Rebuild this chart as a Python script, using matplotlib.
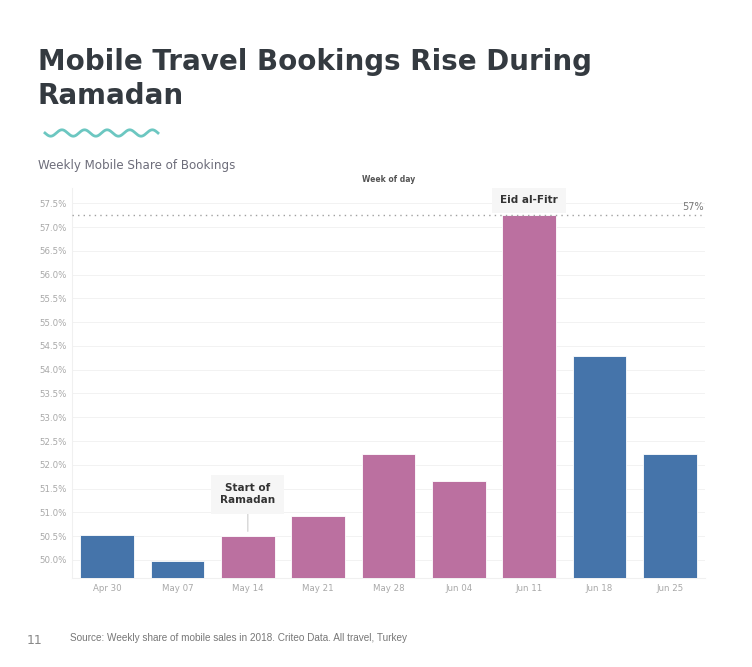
import matplotlib
matplotlib.use("Agg")
import matplotlib.pyplot as plt
import numpy as np

# data
weeks = ["Apr 30", "May 07", "May 14", "May 21", "May 28", "Jun 04", "Jun 11", "Jun 18", "Jun 25"]
share = [50.53, 49.98, 50.50, 50.93, 52.23, 51.65, 57.25, 54.28, 52.22]
ramadan = [False, False, True, True, True, True, True, False, False]
yticks = [50.0, 50.5, 51.0, 51.5, 52.0, 52.5, 53.0, 53.5, 54.0, 54.5, 55.0, 55.5, 56.0, 56.5, 57.0, 57.5]
ref_value = 57.25
ref_label = "57%"

blue = "#4574aa"
pink = "#bb70a0"

fig = plt.figure(figsize=(7.52, 6.67), dpi=100)
ax = fig.add_axes([72 / 752, 1 - 578 / 667, 633 / 752, 390 / 667])

x = np.arange(len(weeks))
colors = [pink if r else blue for r in ramadan]
ax.bar(x, share, width=0.76, color=colors, edgecolor="white", linewidth=0.6, zorder=3)

ax.set_xlim(-0.5, len(weeks) - 0.5)
ax.set_ylim(49.62, 57.82)
ax.set_yticks(yticks)
ax.set_yticklabels(["%.1f%%" % v for v in yticks])
ax.set_xticks(x)
ax.set_xticklabels(weeks)
ax.tick_params(axis="both", length=0, labelsize=6.2, labelcolor="#a8a8a8", pad=4)
ax.grid(axis="y", color="#f2f2f2", linewidth=0.7, zorder=0)
for s in ["top", "right"]:
    ax.spines[s].set_visible(False)
ax.spines["left"].set_color("#f0f0f0")
ax.spines["bottom"].set_color("#f0f0f0")

# reference line
ax.axhline(ref_value, color="#a0a0a0", linestyle=(0, (1, 3)), linewidth=1.0, zorder=4)
ax.text(len(weeks) - 0.52, ref_value + 0.07, ref_label, ha="right", va="bottom",
        fontsize=7, color="#777777")

ax.text(0.5, 1.01, "Week of day", transform=ax.transAxes, ha="center", va="bottom",
        fontsize=5.5, color="#555555", fontweight="bold")

# annotations
box = dict(boxstyle="square,pad=0.85", facecolor="#f6f6f6", edgecolor="none")
ax.annotate("Start of\nRamadan", xy=(2, share[2] + 0.1), xytext=(2, 51.38),
            ha="center", va="center", fontsize=7.5, fontweight="bold", color="#333333",
            bbox=box, arrowprops=dict(arrowstyle="-", color="#cccccc", lw=0.8, shrinkA=0, shrinkB=0),
            zorder=5)
ax.text(6, 57.56, "Eid al-Fitr", ha="center", va="center", fontsize=7.5,
        fontweight="bold", color="#333333",
        bbox=dict(boxstyle="square,pad=0.75", facecolor="#f6f6f6", edgecolor="none"), zorder=5)

# header text
fig.text(38 / 752, 1 - 79 / 667, "Mobile Travel Bookings Rise During\nRamadan",
         ha="left", va="center", fontsize=20, fontweight="bold", color="#343a40",
         linespacing=1.3)

# wavy decoration
wx = np.linspace(45, 158, 300)
wy = 133 + 3.2 * np.sin((wx - 45) / (113 / 5) * 2 * np.pi)
fig.add_artist(plt.Line2D(wx / 752, 1 - wy / 667, color="#6cc7c1", linewidth=2))

fig.text(38 / 752, 1 - 165 / 667, "Weekly Mobile Share of Bookings", ha="left", va="center",
         fontsize=8.6, color="#6d6d7a")

fig.text(27 / 752, 1 - 640 / 667, "11", ha="left", va="center", fontsize=9, color="#888888")
fig.text(70 / 752, 1 - 638 / 667, "Source: Weekly share of mobile sales in 2018. Criteo Data. All travel, Turkey",
         ha="left", va="center", fontsize=7.2, color="#777777", family="Liberation Sans")

fig.savefig("out.png", dpi=100, facecolor="white")
